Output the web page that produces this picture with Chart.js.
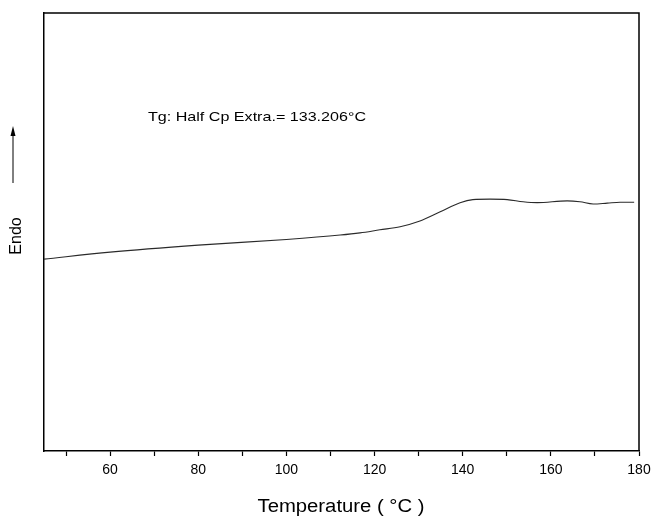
<!DOCTYPE html>
<html>
<head>
<meta charset="utf-8">
<script src="https://cdn.jsdelivr.net/npm/chart.js@4"></script>
<style>
  html, body { margin: 0; padding: 0; background: #fff; }
  canvas { display: block; }
</style>
</head>
<body>
<canvas id="dscChart" width="652" height="517"></canvas>
<script>
// DSC trace (y is arbitrary heat flow units)
const temps = [45, 60, 80, 100, 112.2, 116.7, 121.2, 125.8, 130.3, 134.9, 139.4, 142.3, 146.2, 150.1, 153.7, 156.9, 163.7, 166.6, 169.6, 172.8, 175.7, 178.9];
const heatFlow = [43.8, 45.4, 47.0, 48.3, 49.3, 49.8, 50.5, 51.2, 52.5, 54.6, 56.7, 57.4, 57.5, 57.4, 56.9, 56.7, 57.1, 56.9, 56.4, 56.6, 56.8, 56.8];
const xTicks = [50, 60, 70, 80, 90, 100, 110, 120, 130, 140, 150, 160, 170, 180];
const xLabels = [60, 80, 100, 120, 140, 160, 180];
const note = "Tg: Half Cp Extra.= 133.206°C";
const xTitle = "Temperature ( °C )";
const yTitle = "Endo";

const font = "Liberation Sans, Arial, sans-serif";

// text stretched to a given width, like the original export
function wideText(ctx, text, cx, cy, size, width) {
  ctx.save();
  ctx.font = size + "px " + font;
  const w = ctx.measureText(text).width;
  ctx.translate(cx, cy);
  ctx.scale(width / w, 1);
  ctx.textAlign = "center";
  ctx.textBaseline = "middle";
  ctx.fillStyle = "#000";
  ctx.fillText(text, 0, 0);
  ctx.restore();
}

const frame = {
  id: "frame",
  afterDraw(chart) {
    const ctx = chart.ctx;
    const a = chart.chartArea;
    ctx.save();
    ctx.strokeStyle = "#000";
    ctx.lineWidth = 1.5;
    ctx.beginPath();
    ctx.moveTo(a.left, a.top);
    ctx.lineTo(a.right, a.top);
    ctx.lineTo(a.right, a.bottom);
    ctx.stroke();

    // Tg note
    wideText(ctx, note, 257, 117, 13, 218);

    // x title
    wideText(ctx, xTitle, 341, 507, 18, 167);

    // Endo label, rotated
    ctx.save();
    ctx.translate(17, 236);
    ctx.rotate(-Math.PI / 2);
    ctx.font = "16px " + font;
    ctx.textAlign = "center";
    ctx.textBaseline = "middle";
    ctx.fillStyle = "#000";
    ctx.fillText(yTitle, 0, 0);
    ctx.restore();

    // arrow
    ctx.lineWidth = 1;
    ctx.beginPath();
    ctx.moveTo(13, 183);
    ctx.lineTo(13, 132);
    ctx.stroke();
    ctx.fillStyle = "#000";
    ctx.beginPath();
    ctx.moveTo(13, 126);
    ctx.lineTo(10.5, 136);
    ctx.lineTo(15.5, 136);
    ctx.closePath();
    ctx.fill();
    ctx.restore();
  }
};

new Chart(document.getElementById("dscChart"), {
  type: "line",
  data: {
    datasets: [{
      data: temps.map((t, i) => ({ x: t, y: heatFlow[i] })),
      borderColor: "#2a2a2a",
      borderWidth: 1.1,
      pointRadius: 0,
      fill: false,
      cubicInterpolationMode: "monotone"
    }]
  },
  options: {
    responsive: false,
    animation: false,
    layout: { padding: { left: 44, right: 13, top: 13, bottom: 0 } },
    plugins: { legend: { display: false }, tooltip: { enabled: false } },
    scales: {
      x: {
        type: "linear",
        min: 45,
        max: 180,
        afterBuildTicks: (scale) => {
          scale.ticks = xTicks.map(v => ({ value: v }));
        },
        afterFit: (scale) => {
          scale.height = 66;
          scale.paddingLeft = 0;
          scale.paddingRight = 0;
        },
        grid: {
          drawOnChartArea: false,
          drawTicks: true,
          tickLength: 5,
          tickColor: "#000",
          tickWidth: 1.2
        },
        border: { display: true, color: "#000", width: 1.5 },
        ticks: {
          autoSkip: false,
          maxRotation: 0,
          padding: 6,
          color: "#000",
          font: { family: font, size: 14 },
          callback: (v) => xLabels.includes(v) ? String(v) : ""
        }
      },
      y: {
        min: 0,
        max: 100,
        afterFit: (scale) => { scale.width = 0; },
        grid: { display: false },
        border: { display: true, color: "#000", width: 1.5 },
        ticks: { display: false }
      }
    }
  },
  plugins: [frame]
});
</script>
</body>
</html>
